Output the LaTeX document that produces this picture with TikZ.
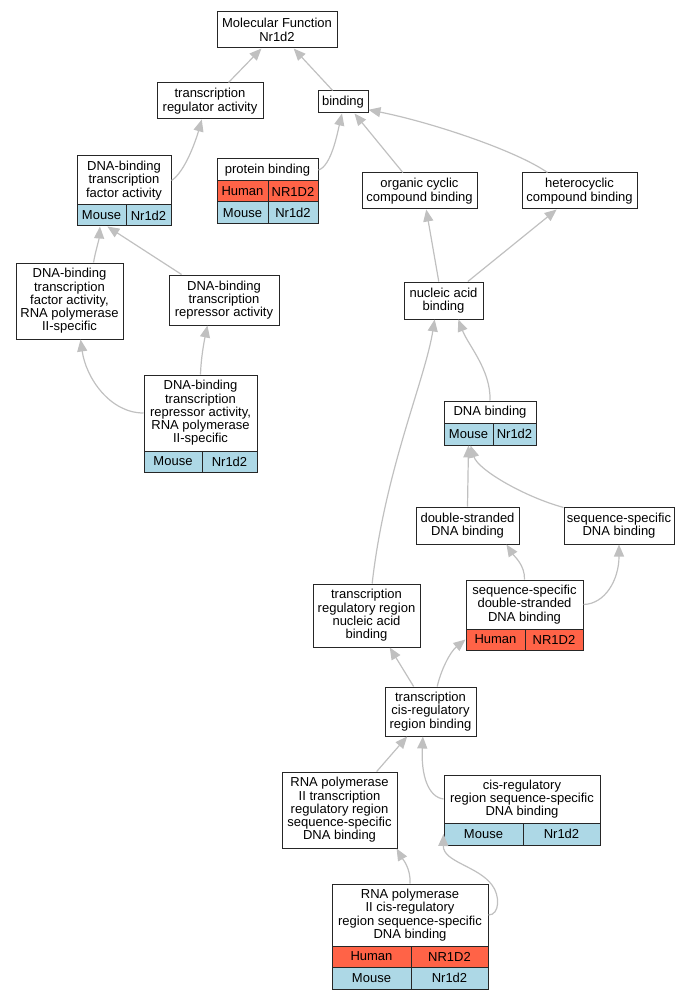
\documentclass[tikz,border=0pt]{standalone}
\usepackage{fontspec}
\setmainfont{Liberation Sans}
\usepackage{xcolor}
\usetikzlibrary{arrows.meta}
\definecolor{humanred}{HTML}{FF6347}
\definecolor{mouseblue}{HTML}{ADD8E6}
\definecolor{edgegray}{HTML}{C0C0C0}

\begin{document}
\begin{tikzpicture}[x=1pt,y=-1pt,
  term/.style={draw=black!85, line width=1pt, fill=white, align=center, inner sep=0pt,
    font=\fontsize{13}{13.3}\selectfont},
  human/.style={term, fill=humanred},
  mouse/.style={term, fill=mouseblue},
  isa/.style={draw=edgegray, line width=1.2pt, -{Triangle[length=12pt,width=10pt]}}]
\useasboundingbox (0,0) rectangle (695,1000);

% Terms (top part)
\node[term, minimum width=120, minimum height=36] (mf) at (277,30) {Molecular Function\\Nr1d2};
\node[term, minimum width=106, minimum height=36] (tra) at (210,101) {transcription\\regulator activity};
\node[term, minimum width=50, minimum height=22] (bind) at (343,102) {binding};
\node[term, minimum width=94, minimum height=49] (dbtf) at (124,180.5) {DNA-binding\\transcription\\factor activity};
\node[mouse, minimum width=49, minimum height=21] (dbtfm) at (101.5,215.5) {Mouse};
\node[mouse, minimum width=45, minimum height=21] (dbtfg) at (148.5,215.5) {Nr1d2};
\node[term, minimum width=101, minimum height=22] (pb) at (267.5,170) {protein binding};
\node[human, minimum width=51, minimum height=21] (pbh) at (242.5,191.5) {Human};
\node[human, minimum width=50, minimum height=21] (pbhg) at (293,191.5) {NR1D2};
\node[mouse, minimum width=51, minimum height=22] (pbm) at (242.5,213) {Mouse};
\node[mouse, minimum width=50, minimum height=22] (pbmg) at (293,213) {Nr1d2};
\node[term, minimum width=115, minimum height=36] (occ) at (419.5,191) {organic cyclic\\compound binding};
\node[term, minimum width=115, minimum height=36] (hcb) at (579.5,191) {heterocyclic\\compound binding};
\node[term, minimum width=79, minimum height=37] (nab) at (443.5,300.5) {nucleic acid\\binding};

% Terms (left branch)
\node[term, minimum width=107, minimum height=76] (dbtf2) at (69.5,301) {DNA-binding\\transcription\\factor activity,\\RNA polymerase\\II-specific};
\node[term, minimum width=110, minimum height=50] (dbtr) at (224,300) {DNA-binding\\transcription\\repressor activity};
\node[term, minimum width=113, minimum height=76] (dbtr2) at (200.5,413) {DNA-binding\\transcription\\repressor activity,\\RNA polymerase\\II-specific};
\node[mouse, minimum width=58, minimum height=21] (dbtr2m) at (173,461.5) {Mouse};
\node[mouse, minimum width=55, minimum height=21] (dbtr2g) at (229.5,461.5) {Nr1d2};

% Terms (DNA binding part)
\node[term, minimum width=92, minimum height=22] (dnab) at (490,412) {DNA binding};
\node[mouse, minimum width=49, minimum height=22] (dnabm) at (468.5,434) {Mouse};
\node[mouse, minimum width=43, minimum height=22] (dnabg) at (514.5,434) {Nr1d2};
\node[term, minimum width=103, minimum height=37] (dsdb) at (467.5,525.5) {double-stranded\\DNA binding};
\node[term, minimum width=110, minimum height=37] (ssdb) at (619,525.5) {sequence-specific\\DNA binding};
\node[term, minimum width=107, minimum height=63] (trnab) at (366.5,615.5) {transcription\\regulatory region\\nucleic acid\\binding};
\node[term, minimum width=117, minimum height=49] (ssds) at (524.5,604.5) {sequence-specific\\double-stranded\\DNA binding};
\node[human, minimum width=59, minimum height=21] (ssdsh) at (495.5,639.5) {Human};
\node[human, minimum width=58, minimum height=21] (ssdsg) at (554,639.5) {NR1D2};

% Terms (bottom part)
\node[term, minimum width=91, minimum height=49] (tcrb) at (430.5,711.5) {transcription\\cis-regulatory\\region binding};
\node[term, minimum width=115, minimum height=76] (rptr) at (339.5,810) {RNA polymerase\\II transcription\\regulatory region\\sequence-specific\\DNA binding};
\node[term, minimum width=156, minimum height=48] (crss) at (522,799) {cis-regulatory\\region sequence-specific\\DNA binding};
\node[mouse, minimum width=79, minimum height=22] (crssm) at (483.5,834) {Mouse};
\node[mouse, minimum width=77, minimum height=22] (crssg) at (561.5,834) {Nr1d2};
\node[term, minimum width=156, minimum height=62] (rpcr) at (410,915) {RNA polymerase\\II cis-regulatory\\region sequence-specific\\DNA binding};
\node[human, minimum width=79, minimum height=21] (rpcrh) at (371.5,956.5) {Human};
\node[human, minimum width=77, minimum height=21] (rpcrhg) at (449.5,956.5) {NR1D2};
\node[mouse, minimum width=79, minimum height=22] (rpcrm) at (371.5,978) {Mouse};
\node[mouse, minimum width=77, minimum height=22] (rpcrmg) at (449.5,978) {Nr1d2};

% is-a edges
\draw[isa] (tra.45) -- (mf.230);
\draw[isa] (bind.132) -- (mf.-48);
\draw[isa] (dbtf.east) .. controls (185,172) and (196,140) .. (tra.246);
\draw[isa] (pb.east) .. controls (331,166) and (337,135) .. (bind.265);
\draw[isa] (occ.132) -- (bind.-45);
\draw[isa] (hcb.150) .. controls (515,150) and (430,122) .. (bind.-17);
\draw[isa] (nab.104) -- (occ.-70);
\draw[isa] (nab.38) -- (hcb.219);
\draw[isa] (dbtf2.58) .. controls (95,253) and (99,240) .. (dbtfm.262);
\draw[isa] (dbtr.149) -- (dbtfm.-62);
\draw[isa] (dbtr2.west) .. controls (110,413) and (86,378) .. (dbtf2.-74);
\draw[isa] (dbtr2.north) .. controls (201,358) and (204,342) .. (dbtr.237);
\draw[isa] (dnab.north) .. controls (491,370) and (468,345) .. (nab.-52);
\draw[isa] (trnab.80) .. controls (385,470) and (425,380) .. (nab.245);
\draw[isa] (dsdb.north) -- (dnabm.south);
\draw[isa] (ssdb.162) .. controls (525,497) and (478,470) .. (dnabm.-80);
\draw[isa] (ssds.north) .. controls (525,565) and (514,556) .. (dsdb.-26);
\draw[isa] (ssds.east) .. controls (605,604) and (619,580) .. (ssdb.south);
\draw[isa] (tcrb.124) -- (trnab.-54);
\draw[isa] (tcrb.75) .. controls (441,670) and (450,652) .. (ssdsh.west);
\draw[isa] (rptr.46) -- (tcrb.227);
\draw[isa] (crss.west) .. controls (428,797) and (421,775) .. (tcrb.253);
\draw[isa] (rpcr.north) .. controls (411,868) and (402,858) .. (rptr.-34);
\draw[isa] (rpcr.east) .. controls (500,915) and (500,895) .. (492,885)
  .. controls (478,866) and (443,862) .. (crssm.west);
\end{tikzpicture}
\end{document}
